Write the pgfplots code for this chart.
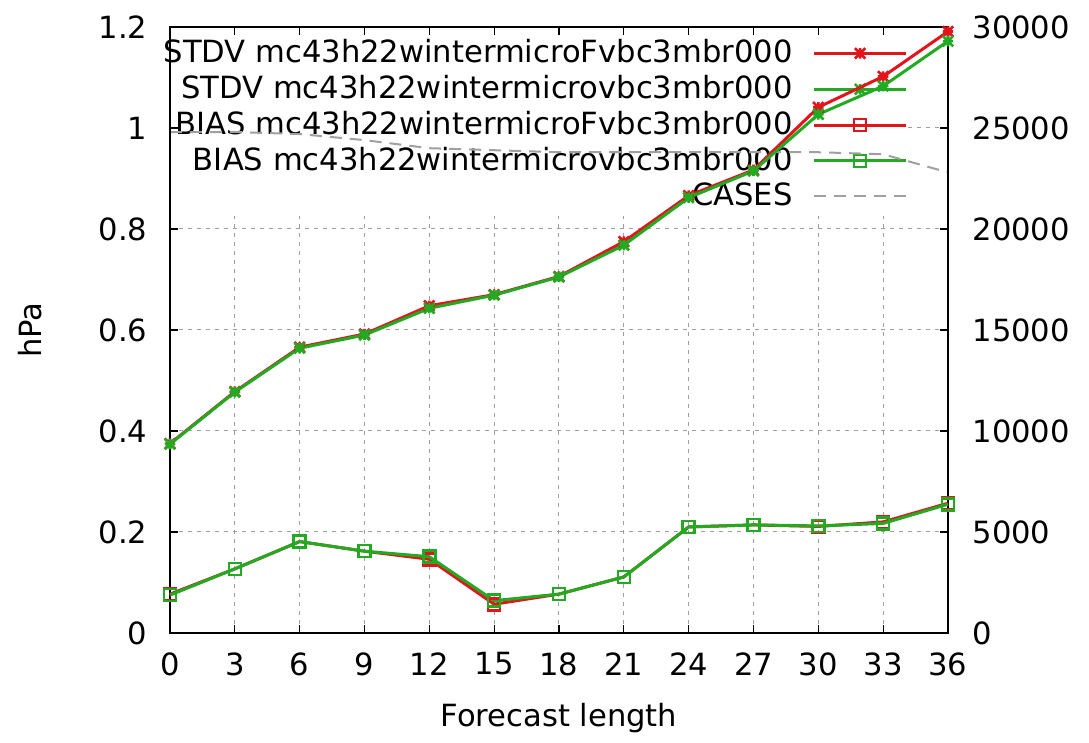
\documentclass[border=0pt]{standalone}
\usepackage{fontspec}
\setmainfont{DejaVu Sans}
\usepackage{pgfplots}
\usepackage{pgfplotstable}
\pgfplotsset{compat=1.18}
\definecolor{cred}{HTML}{E3141B}
\definecolor{cgreen}{HTML}{22AA22}
\definecolor{ccases}{HTML}{A0A0A0}

% gnuplot-like star: plus and cross on top of each other
\pgfdeclareplotmark{gpstar}{%
  \pgfpathmoveto{\pgfqpoint{-\pgfplotmarksize}{0pt}}%
  \pgfpathlineto{\pgfqpoint{\pgfplotmarksize}{0pt}}%
  \pgfpathmoveto{\pgfqpoint{0pt}{-\pgfplotmarksize}}%
  \pgfpathlineto{\pgfqpoint{0pt}{\pgfplotmarksize}}%
  \pgfpathmoveto{\pgfqpoint{-\pgfplotmarksize}{-\pgfplotmarksize}}%
  \pgfpathlineto{\pgfqpoint{\pgfplotmarksize}{\pgfplotmarksize}}%
  \pgfpathmoveto{\pgfqpoint{-\pgfplotmarksize}{\pgfplotmarksize}}%
  \pgfpathlineto{\pgfqpoint{\pgfplotmarksize}{-\pgfplotmarksize}}%
  \pgfusepathqstroke}

% scores per forecast length (hPa)
\pgfplotstableread{
x   stdvF  stdvV  biasF  biasV
0   0.375  0.374  0.077  0.075
3   0.478  0.477  0.127  0.127
6   0.566  0.564  0.181  0.181
9   0.592  0.590  0.162  0.162
12  0.648  0.643  0.146  0.151
15  0.670  0.669  0.057  0.064
18  0.706  0.705  0.077  0.077
21  0.775  0.768  0.111  0.111
24  0.866  0.862  0.210  0.210
27  0.917  0.915  0.214  0.214
30  1.041  1.027  0.211  0.212
33  1.102  1.083  0.220  0.217
36  1.191  1.172  0.257  0.255
}\scores

% number of cases (right axis)
\pgfplotstableread{
x   cases
0   24800
3   24800
6   24700
9   24400
12  24000
15  23900
18  23800
21  23800
24  23800
27  23800
30  23800
33  23700
36  22800
}\cases

\pgfplotsset{
  base/.style={
    scale only axis, width=389pt, height=303pt,
    xmin=0, xmax=36, ymin=0, ymax=1.2,
    xtick={0,3,...,36}, ytick={0,0.2,...,1.2},
    tick align=inside, major tick length=4pt,
    tick style={black, line width=0.6pt},
    axis line style={black, line width=0.8pt},
    /pgf/number format/assume math mode=true,
  },
  legend image code/.code={
    \draw[mark repeat=2,mark phase=2,#1] plot coordinates {(0pt,0pt) (23pt,0pt) (46pt,0pt)};
  },
  stdv/.style={line width=1.5pt, mark=gpstar, mark size=2.6pt, mark options={solid, line width=1.3pt}},
  bias/.style={line width=1.5pt, mark=square, mark size=3pt, mark options={solid, line width=1.3pt}},
  casesline/.style={ccases, line width=1pt, dash pattern=on 6pt off 4pt},
}

\begin{document}
\fontsize{15.3}{18}\selectfont
\begin{tikzpicture}
\useasboundingbox (-85pt,-55pt) rectangle (459.5pt,316.5pt);

% grid, labels and legend
\begin{axis}[base,
  grid=major,
  grid style={gray!75, line width=0.5pt, dash pattern=on 2pt off 2.5pt},
  ytick pos=left, xtick pos=both,
  xlabel={Forecast length}, ylabel={hPa},
  every axis x label/.style={at={(axis description cs:0.5,-0.14)}, anchor=center},
  every axis y label/.style={at={(axis description cs:-0.18,0.5)}, rotate=90, anchor=center},
  xticklabel style={yshift=-4.5pt},
  yticklabel style={xshift=-6pt},
  legend plot pos=right,
  legend cell align=right,
  legend style={at={(rel axis cs:0.9486,0.99)}, anchor=north east,
    draw=none, fill=white, inner xsep=0pt, inner ysep=1pt,
    /tikz/every odd column/.append style={column sep=8pt}},
]
\addlegendimage{stdv, cred}
\addlegendentry{STDV mc43h22wintermicroFvbc3mbr000}
\addlegendimage{stdv, cgreen}
\addlegendentry{STDV mc43h22wintermicrovbc3mbr000}
\addlegendimage{bias, cred}
\addlegendentry{BIAS mc43h22wintermicroFvbc3mbr000}
\addlegendimage{bias, cgreen}
\addlegendentry{BIAS mc43h22wintermicrovbc3mbr000}
\addlegendimage{casesline}
\addlegendentry{CASES}
\end{axis}

% cases on the right axis
\begin{axis}[base,
  ymin=0, ymax=30000, ytick={0,5000,...,30000},
  scaled y ticks=false,
  /pgf/number format/1000 sep={},
  axis y line*=right, axis x line=none,
  yticklabel style={xshift=7pt},
]
\addplot[casesline] table[x=x, y=cases] {\cases};
\end{axis}

% scores
\begin{axis}[base,
  ytick pos=left, xtick pos=both,
  xticklabels={}, yticklabels={},
  clip=false,
]
\addplot[stdv, cred] table[x=x, y=stdvF] {\scores};
\addplot[stdv, cgreen] table[x=x, y=stdvV] {\scores};
\addplot[bias, cred] table[x=x, y=biasF] {\scores};
\addplot[bias, cgreen] table[x=x, y=biasV] {\scores};
\end{axis}
\end{tikzpicture}
\end{document}
